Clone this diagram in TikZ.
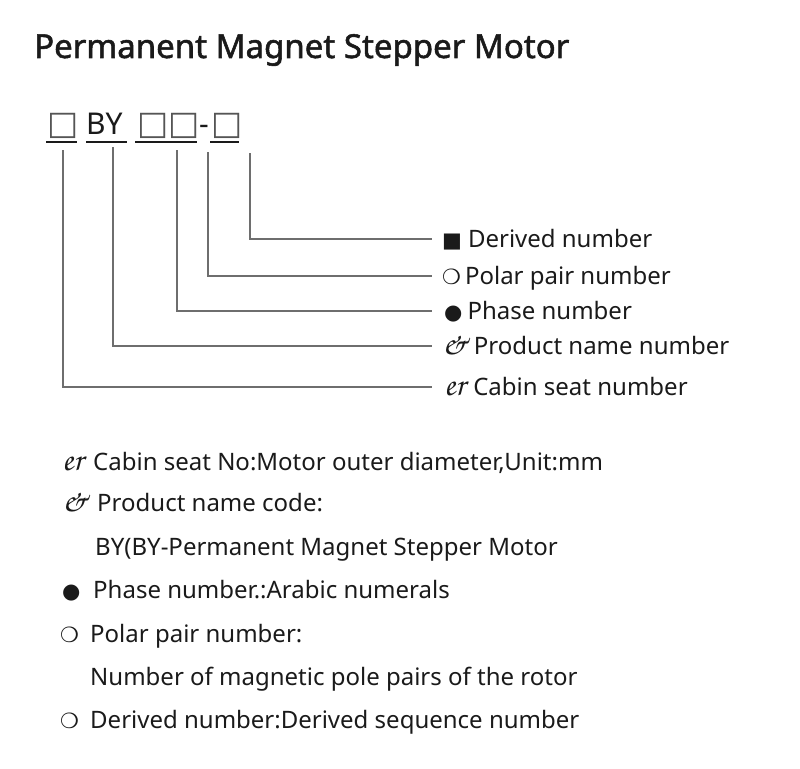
\documentclass[tikz,border=0pt]{standalone}
\usepackage{fontspec}
\setmainfont{Noto Sans}
\newfontfamily\titlefont{Noto Sans}[FakeBold=1.6]
\newfontfamily\symfont{DejaVu Sans}
\newfontfamily\cursfont{texgyrechorus-mediumitalic.otf}
\definecolor{ink}{HTML}{1A1A1A}
\definecolor{leadgray}{HTML}{6E6E6E}
\definecolor{boxgray}{HTML}{555555}
\newcommand{\sqsym}{{\symfont\fontsize{21}{21}\selectfont ■}}
\newcommand{\ringsym}{{\symfont\fontsize{21}{21}\selectfont ❍}}
\newcommand{\dotsym}{{\symfont\fontsize{21}{21}\selectfont ●}}
\newcommand{\ampsym}{{\cursfont\fontsize{33}{33}\selectfont\&}}
\newcommand{\ersym}{{\cursfont\fontsize{33}{33}\selectfont er}}
\newcommand{\emptybox}{{\color{boxgray}\symfont\fontsize{33}{33}\selectfont □}}

\begin{document}
\begin{tikzpicture}[x=1pt,y=-1pt,
	txt/.style={inner sep=0pt,anchor=base west,text=ink,font=\fontsize{24}{24}\selectfont},
	codepart/.style={inner sep=0pt,anchor=base west,text=ink,font=\fontsize{30}{30}\selectfont},
	lbl/.style={txt,anchor=west,inner xsep=10pt,text height=17pt,text depth=0pt},
	leader/.style={draw=leadgray,line width=2pt},
	uline/.style={draw=ink,line width=2pt}]
	\useasboundingbox (0,0) rectangle (800,768);
	% title
	\node[txt,font=\fontsize{33}{33}\selectfont\titlefont] (title) at (34,58) {Permanent Magnet Stepper Motor};
	% model code
	\node[codepart] (seat) at (47,134) {\emptybox};
	\node[codepart] (prod) at (86,134) {BY};
	\node[codepart] (phase) at (137,134) {\emptybox};
	\node[codepart] (polar) at (168,134) {\emptybox};
	\node[codepart] (dash) at (199,134) {-};
	\node[codepart] (deriv) at (211,134) {\emptybox};
	\draw[uline] (46,142) -- (77,142);
	\draw[uline] (86,142) -- (127,142);
	\draw[uline] (135,142) -- (197,142);
	\draw[uline] (210,142) -- (239,142);
	% leader starts
	\coordinate (s1) at (63,150);
	\coordinate (s2) at (113,147);
	\coordinate (s3) at (177,150);
	\coordinate (s4) at (208,152);
	\coordinate (s5) at (250,153);
	% labels
	\node[lbl] (l5) at (432,239) {\sqsym\hspace{6pt}Derived number};
	\node[lbl] (l4) at (432,276) {\ringsym\hspace{4pt}Polar pair number};
	\node[lbl] (l3) at (432,311) {\hspace{2pt}\dotsym\hspace{5pt}Phase number};
	\node[lbl] (l2) at (432,346) {\ampsym\hspace{6pt}Product name number};
	\node[lbl] (l1) at (432,387) {\hspace{2pt}\ersym\hspace{8pt}Cabin seat number};
	\draw[leader] (s1) |- (l1.west);
	\draw[leader] (s2) |- (l2.west);
	\draw[leader] (s3) |- (l3.west);
	\draw[leader] (s4) |- (l4.west);
	\draw[leader] (s5) |- (l5.west);
	% notes
	\node[txt] (n1s) at (62,470) {\ersym};
	\node[txt] (n1) at (93,470) {Cabin seat No:Motor outer diameter,Unit:mm};
	\node[txt] (n2s) at (62,511) {\ampsym};
	\node[txt] (n2) at (97,511) {Product name code:};
	\node[txt] (n3) at (95,555) {BY(BY-Permanent Magnet Stepper Motor};
	\node[txt] (n4s) at (62,598) {\dotsym};
	\node[txt] (n4) at (93,598) {Phase number.:Arabic numerals};
	\node[txt] (n5s) at (60,642) {\ringsym};
	\node[txt] (n5) at (90,642) {Polar pair number:};
	\node[txt] (n6) at (90,685) {Number of magnetic pole pairs of the rotor};
	\node[txt] (n7s) at (60,728) {\ringsym};
	\node[txt] (n7) at (90,728) {Derived number:Derived sequence number};
\end{tikzpicture}
\end{document}
